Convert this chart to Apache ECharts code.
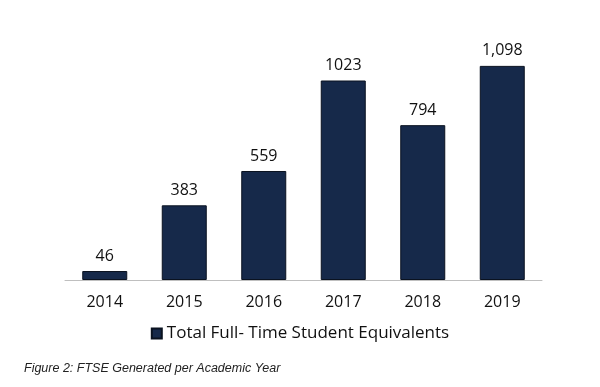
<!DOCTYPE html>
<html><head><meta charset="utf-8">
<script src="https://cdn.jsdelivr.net/npm/echarts@6/dist/echarts.min.js"></script>
<style>html,body{margin:0;padding:0;background:#fff}#c{width:600px;height:387px}</style>
</head><body><div id="c"></div>
<script>
const categories = ['2014','2015','2016','2017','2018','2019'];
const values = [46, 383, 559, 1023, 794, 1098];
const valueLabels = ['46','383','559','1023','794','1,098'];
const seriesName = 'Total Full- Time Student Equivalents';
const caption = 'Figure 2: FTSE Generated per Academic Year';

const chart = echarts.init(document.getElementById('c'), null, {renderer:'canvas'});
chart.setOption({
  animation:false,
  grid:{left:65, right:58, top:46, bottom:107},
  title:{text:caption, left:19, top:357, textStyle:{fontFamily:'Liberation Sans', fontStyle:'italic', fontWeight:'normal', fontSize:12.5, color:'#222'}},
  legend:{bottom:40, left:'center', itemWidth:10, itemHeight:10, itemGap:8,
    icon:'rect',
    textStyle:{fontFamily:'Open Sans', fontSize:17, color:'#111'}, data:[seriesName]},
  xAxis:{type:'category', data:categories,
    axisLine:{lineStyle:{color:'#bfbfbf', width:1}}, axisTick:{show:false},
    axisLabel:{fontFamily:'Open Sans', fontSize:16, color:'#111', margin:14}},
  yAxis:{type:'value', min:0, max:1200, show:false, splitLine:{show:false}},
  series:[{name:seriesName, type:'bar', data:values, barWidth:45,
    itemStyle:{color:'#16294a', borderColor:'#0a1220', borderWidth:1},
    label:{show:true, position:'top', distance:7, fontFamily:'Open Sans', fontSize:16, color:'#111',
      formatter:p=>valueLabels[p.dataIndex]}}]
});
</script></body></html>
